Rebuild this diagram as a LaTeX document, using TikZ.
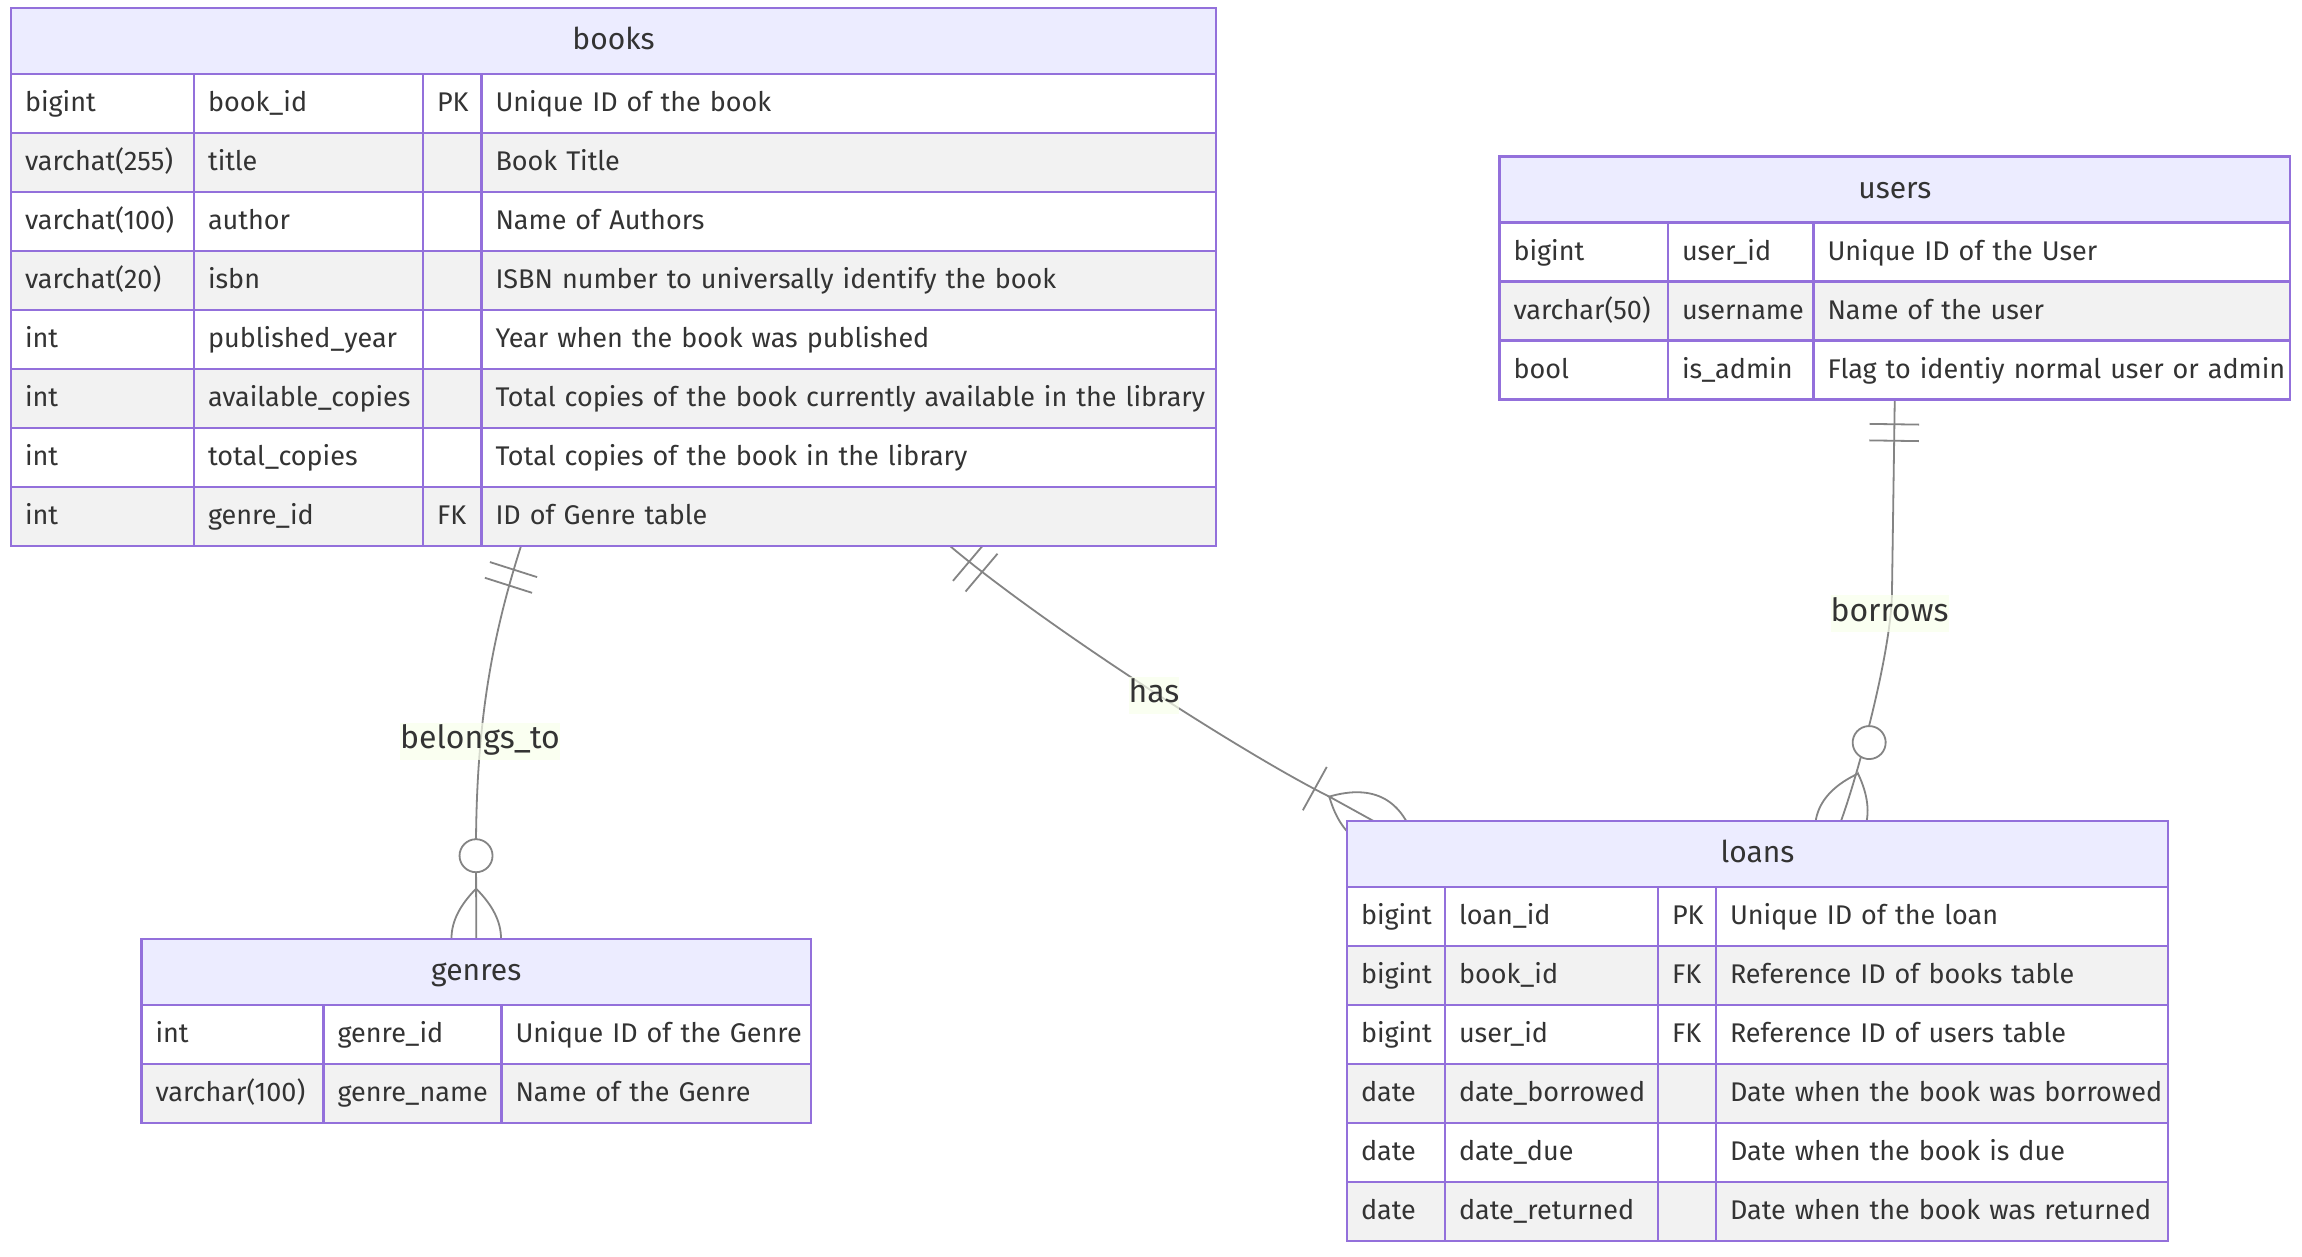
\documentclass[tikz,border=0pt]{standalone}
\usepackage{fontspec}
\setmainfont{Fira Sans}
\usetikzlibrary{decorations.markings,backgrounds}
\definecolor{erborder}{HTML}{9370DB}
\definecolor{erheadfill}{HTML}{ECECFF}
\definecolor{errowfill}{HTML}{F2F2F2}
\definecolor{ertext}{HTML}{333333}
\definecolor{erlinecolor}{HTML}{848484}
\definecolor{erlabelbg}{HTML}{F9FFEC}
\newcommand{\erbody}{\fontsize{27pt}{32pt}\selectfont}
\newcommand{\erbig}{\fontsize{30pt}{36pt}\selectfont}
\newcommand{\erlbl}{\fontsize{32pt}{38pt}\selectfont}

\begin{document}
\begin{tikzpicture}[x=1pt,y=-1pt,
	ercell/.style={draw=erborder, line width=2.3pt, outer sep=0pt, anchor=north west, minimum height=59pt, inner xsep=14pt, inner ysep=0pt, align=left, font=\erbody, text=ertext, text height=19pt, text depth=3pt},
	erhead/.style={draw=erborder, fill=erheadfill, line width=2.3pt, outer sep=0pt, anchor=north west, minimum height=66pt, inner sep=0pt, font=\erbig, text=ertext, text height=21pt, text depth=4pt},
	erlabel/.style={fill=erlabelbg, fill opacity=0.7, text opacity=1, inner xsep=0pt, inner ysep=2pt, font=\erlbl, text=ertext, text height=24pt, text depth=9pt},
	erlink/.style={draw=erlinecolor, line width=1.8pt},
	one start/.style={postaction={decorate,decoration={markings,mark=at position 0 with {
		\draw[erlink] (24.75pt,-24.75pt) -- (24.75pt,24.75pt) (41.25pt,-24.75pt) -- (41.25pt,24.75pt);}}}},
	zero many end/.style={postaction={decorate,decoration={markings,mark=at position 0.998 with {
		\draw[erlink, fill=white] (-82.5pt,0pt) circle[radius=16.5pt];
		\draw[erlink] (-49.5pt,0pt) .. controls (-16.5pt,33pt) and (16.5pt,33pt) .. (49.5pt,0pt) .. controls (16.5pt,-33pt) and (-16.5pt,-33pt) .. cycle;}}}},
	one many end/.style={postaction={decorate,decoration={markings,mark=at position 0.998 with {
		\draw[erlink] (-66pt,-24.75pt) -- (-66pt,24.75pt);
		\draw[erlink] (-49.5pt,0pt) .. controls (-16.5pt,33pt) and (16.5pt,33pt) .. (49.5pt,0pt) .. controls (16.5pt,-33pt) and (-16.5pt,-33pt) .. cycle;}}}}
]
	\useasboundingbox (0,0) rectangle (2302,1256);

	% books
	\node[erhead, minimum width=1205pt] (books) at (11,8) {books};
	\foreach \ty/\nm/\ky/\ds [count=\r] in {bigint/book\_id/PK/Unique ID of the book,
		varchat(255)/title//Book Title,
		varchat(100)/author//Name of Authors,
		varchat(20)/isbn//ISBN number to universally identify the book,
		int/published\_year//Year when the book was published,
		int/available\_copies//Total copies of the book currently available in the library,
		int/total\_copies//Total copies of the book in the library,
		int/genre\_id/FK/ID of Genre table}
	{
		\pgfmathsetmacro{\ry}{74+59*(\r-1)}
		\ifodd\r\relax\def\rowfill{white}\else\def\rowfill{errowfill}\fi
		\node[ercell, fill=\rowfill, text width=155pt] (books-\r-1) at (11,\ry) {\mbox{\ty}};
		\node[ercell, fill=\rowfill, text width=201pt] (books-\r-2) at (194,\ry) {\mbox{\nm}};
		\node[ercell, fill=\rowfill, text width=30.5pt] (books-\r-3) at (423,\ry) {\mbox{\ky}};
		\node[ercell, fill=\rowfill, text width=706.5pt] (books-\r-4) at (481.5,\ry) {\mbox{\ds}};
	}

	% users
	\node[erhead, minimum width=790.5pt] (users) at (1499.5,156.5) {users};
	\foreach \ty/\nm/\ds [count=\r] in {bigint/user\_id/Unique ID of the User,
		varchar(50)/username/Name of the user,
		bool/is\_admin/Flag to identiy normal user or admin}
	{
		\pgfmathsetmacro{\ry}{222.5+59*(\r-1)}
		\ifodd\r\relax\def\rowfill{white}\else\def\rowfill{errowfill}\fi
		\node[ercell, fill=\rowfill, text width=140.5pt] (users-\r-1) at (1499.5,\ry) {\mbox{\ty}};
		\node[ercell, fill=\rowfill, text width=117.5pt] (users-\r-2) at (1668,\ry) {\mbox{\nm}};
		\node[ercell, fill=\rowfill, text width=448.5pt] (users-\r-3) at (1813.5,\ry) {\mbox{\ds}};
	}

	% genres
	\node[erhead, minimum width=669.5pt] (genres) at (141.5,939) {genres};
	\foreach \ty/\nm/\ds [count=\r] in {int/genre\_id/Unique ID of the Genre,
		varchar(100)/genre\_name/Name of the Genre}
	{
		\pgfmathsetmacro{\ry}{1005+59*(\r-1)}
		\ifodd\r\relax\def\rowfill{white}\else\def\rowfill{errowfill}\fi
		\node[ercell, fill=\rowfill, text width=154pt] (genres-\r-1) at (141.5,\ry) {\mbox{\ty}};
		\node[ercell, fill=\rowfill, text width=150pt] (genres-\r-2) at (323.5,\ry) {\mbox{\nm}};
		\node[ercell, fill=\rowfill, text width=281.5pt] (genres-\r-3) at (501.5,\ry) {\mbox{\ds}};
	}

	% loans
	\node[erhead, minimum width=821pt] (loans) at (1347,821) {loans};
	\foreach \ty/\nm/\ky/\ds [count=\r] in {bigint/loan\_id/PK/Unique ID of the loan,
		bigint/book\_id/FK/Reference ID of books table,
		bigint/user\_id/FK/Reference ID of users table,
		date/date\_borrowed//Date when the book was borrowed,
		date/date\_due//Date when the book is due,
		date/date\_returned//Date when the book was returned}
	{
		\pgfmathsetmacro{\ry}{887+59*(\r-1)}
		\ifodd\r\relax\def\rowfill{white}\else\def\rowfill{errowfill}\fi
		\node[ercell, fill=\rowfill, text width=70pt] (loans-\r-1) at (1347,\ry) {\mbox{\ty}};
		\node[ercell, fill=\rowfill, text width=185pt] (loans-\r-2) at (1445,\ry) {\mbox{\nm}};
		\node[ercell, fill=\rowfill, text width=30pt] (loans-\r-3) at (1658,\ry) {\mbox{\ky}};
		\node[ercell, fill=\rowfill, text width=424pt] (loans-\r-4) at (1716,\ry) {\mbox{\ds}};
	}

	\begin{scope}[on background layer]
		\fill[white] (0,0) rectangle (2302,1256);
		\draw[erlink, one start, zero many end] ([xshift=39.5pt]books-8-4.south west) .. controls (492,637) and (477,720) .. (476,840) -- (genres.north);
		\draw[erlink, one start, one many end] ([xshift=468.5pt]books-8-4.south west) .. controls (1040,622) and (1240,752) .. (1330,797) -- ([xshift=26.5pt]loans.north west);
		\draw[erlink, one start, zero many end] (users.south |- users-3-3.south) -- (1892,590) .. controls (1892,650) and (1858,774) .. ([xshift=494pt]loans.north west);
	\end{scope}

	\node[erlabel] (belongs) at (480,741) {belongs\_to};
	\node[erlabel] (has) at (1154,695) {has};
	\node[erlabel] (borrows) at (1889.5,613.5) {borrows};
\end{tikzpicture}
\end{document}
